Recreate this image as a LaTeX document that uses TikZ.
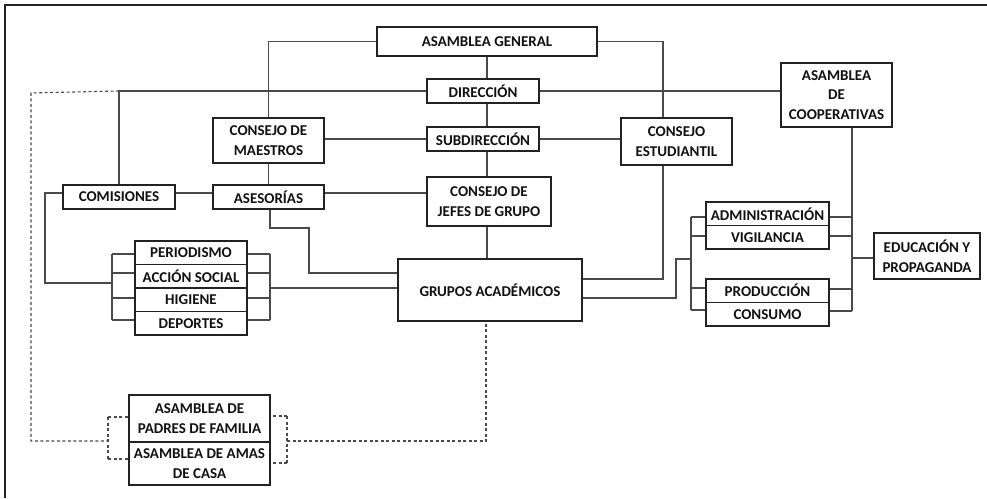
\documentclass[tikz,border=0pt]{standalone}
\usepackage{fontspec}
\setmainfont{Carlito}
\usetikzlibrary{backgrounds}
\definecolor{boxline}{HTML}{222222}
\definecolor{conline}{HTML}{4A4A4A}
\definecolor{txt}{HTML}{111111}
\tikzset{
  box/.style={draw=boxline, line width=1.4pt, fill=white, inner sep=0pt, align=center,
    font=\fontsize{15}{19.5}\selectfont\bfseries, text=txt},
  con/.style={draw=conline, line width=1.1pt},
  dsh/.style={draw=conline, line width=1.1pt, dash pattern=on 3pt off 2.5pt},
}
\begin{document}
\begin{tikzpicture}[x=1pt,y=-1pt]
\useasboundingbox (0,0) rectangle (987,498);
\draw[boxline, line width=1.2pt] (5,498) -- (5,5) -- (987,5);

% main column
\node[box, minimum width=220pt, minimum height=29pt] (ag) at (487,41.5) {ASAMBLEA GENERAL};
\node[box, minimum width=112pt, minimum height=24pt] (dir) at (483,91) {DIRECCIÓN};
\node[box, minimum width=112pt, minimum height=24pt] (sub) at (483,139) {SUBDIRECCIÓN};
\node[box, minimum width=124pt, minimum height=49pt] (cjg) at (489,201.5) {CONSEJO DE\\JEFES DE GRUPO};
\node[box, minimum width=184pt, minimum height=62pt] (ga) at (490,290) {GRUPOS ACADÉMICOS};

\node[box, minimum width=111pt, minimum height=45pt] (cm) at (268.5,140.5) {CONSEJO DE\\MAESTROS};
\node[box, minimum width=111pt, minimum height=24pt] (ase) at (268.5,197) {ASESORÍAS};
\node[box, minimum width=112pt, minimum height=24pt] (com) at (119,197) {COMISIONES};
\node[box, minimum width=111pt, minimum height=47pt] (ce) at (676.5,141.5) {CONSEJO\\ESTUDIANTIL};
\node[box, minimum width=111pt, minimum height=64pt] (ac) at (836.5,95) {ASAMBLEA\\DE\\COOPERATIVAS};

% committees
\node[box, minimum width=112pt, minimum height=23.5pt] (per) at (191,252.75) {PERIODISMO};
\node[box, minimum width=112pt, minimum height=23.5pt] (acc) at (191,276.25) {ACCIÓN SOCIAL};
\node[box, minimum width=112pt, minimum height=23.5pt] (hig) at (191,299.75) {HIGIENE};
\node[box, minimum width=112pt, minimum height=23.5pt] (dep) at (191,323.25) {DEPORTES};

% cooperatives
\node[box, minimum width=123pt, minimum height=23.5pt] (adm) at (767.5,213.75) {ADMINISTRACIÓN};
\node[box, minimum width=123pt, minimum height=23.5pt] (vig) at (767.5,237.25) {VIGILANCIA};
\node[box, minimum width=123pt, minimum height=23.5pt] (pro) at (767.5,290.75) {PRODUCCIÓN};
\node[box, minimum width=123pt, minimum height=23.5pt] (cns) at (767.5,314.25) {CONSUMO};
\node[box, minimum width=106pt, minimum height=46pt] (edu) at (927,256) {EDUCACIÓN Y\\PROPAGANDA};

% parents
\node[box, minimum width=141pt, minimum height=47pt] (pad) at (199.5,418.5) {ASAMBLEA DE\\PADRES DE FAMILIA};
\node[box, minimum width=141pt, minimum height=43pt] (ama) at (199.5,463.5) {ASAMBLEA DE AMAS\\DE CASA};

% helper coordinates
\coordinate (ceX) at (663,0);
\coordinate (comL) at (45,283);
\coordinate (cbL) at (112,0);
\coordinate (cbR) at (270,0);
\coordinate (aseA) at (270,228);
\coordinate (aseB) at (309,228);
\coordinate (aseC) at (309,273);
\coordinate (gaR1) at (676,298);
\coordinate (gaR2) at (676,259);
\coordinate (kbL) at (691,0);
\coordinate (kbR) at (852,0);
\coordinate (dL) at (31,93);
\coordinate (dB) at (31,441);
\coordinate (pbL) at (108,0);
\coordinate (pbR) at (287,0);
\coordinate (gaD) at (486,441);

\begin{scope}[on background layer]
  % main spine
  \draw[con] (ag.south) -- (ag.south |- ga.north);
  % top branches
  \draw[con] (ag.west) -| (cm.north);
  \draw[con] (ag.east) -| (ce.north -| ceX);
  % direccion
  \draw[con] (dir.west) -| (com.north);
  \draw[con] (dir.east) -- (dir.east -| ac.west);
  % subdireccion
  \draw[con] (sub.west) -- (sub.west -| cm.east);
  \draw[con] (sub.east) -- (sub.east -| ce.west);
  % consejo de maestros / asesorias / comisiones
  \draw[con] (cm.south) -- (ase.north);
  \draw[con] (com.east |- 0,193) -- (ase.west |- 0,193);
  \draw[con] (ase.east |- 0,193) -- (cjg.west |- 0,193);
  \draw[con] (com.west |- 0,193) -| (comL) -- (comL -| cbL);
  % asesorias to grupos
  \draw[con] (ase.south -| aseA) -- (aseA) -- (aseB) -- (aseC) -- (aseC -| ga.west);
  % committee brackets
  \draw[con] (cbL |- 0,254) -- (cbL |- 0,320);
  \draw[con] (cbR |- 0,254) -- (cbR |- 0,320);
  \draw[con] (cbL |- 0,254) -- (per.west |- 0,254);
  \draw[con] (cbL |- 0,273) -- (acc.west |- 0,273);
  \draw[con] (cbL |- 0,298) -- (hig.west |- 0,298);
  \draw[con] (cbL |- 0,320) -- (dep.west |- 0,320);
  \draw[con] (cbR |- 0,254) -- (per.east |- 0,254);
  \draw[con] (cbR |- 0,273) -- (acc.east |- 0,273);
  \draw[con] (cbR |- 0,298) -- (hig.east |- 0,298);
  \draw[con] (cbR |- 0,320) -- (dep.east |- 0,320);
  \draw[con] (cbR |- 0,288) -- (ga.west |- 0,288);
  % grupos to consejo estudiantil
  \draw[con] (ga.east |- 0,279) -| (ce.south -| ceX);
  % grupos to cooperatives
  \draw[con] (ga.east |- gaR1) -- (gaR1) -- (gaR2) -- (gaR2 -| kbL);
  \draw[con] (kbL |- 0,217) -- (kbL |- 0,310);
  \draw[con] (kbL |- 0,217) -- (adm.west |- 0,217);
  \draw[con] (kbL |- 0,236) -- (vig.west |- 0,236);
  \draw[con] (kbL |- 0,288) -- (pro.west |- 0,288);
  \draw[con] (kbL |- 0,310) -- (cns.west |- 0,310);
  \draw[con] (ac.south -| kbR) -- (kbR |- 0,311);
  \draw[con] (kbR |- 0,217) -- (adm.east |- 0,217);
  \draw[con] (kbR |- 0,236) -- (vig.east |- 0,236);
  \draw[con] (kbR |- 0,289) -- (pro.east |- 0,289);
  \draw[con] (kbR |- 0,311) -- (cns.east |- 0,311);
  \draw[con] (kbR |- 0,258) -- (edu.west |- 0,258);
  % dashed links to parents
  \draw[dsh] (com.north |- dir.west) -- (dL) -- (dB) -- (dB -| pbL);
  \draw[dsh] (pbL |- 0,417) -- (pbL |- 0,459);
  \draw[dsh] (pbL |- 0,417) -- (pad.west |- 0,417);
  \draw[dsh] (pbL |- 0,459) -- (ama.west |- 0,459);
  \draw[dsh] (pbR |- 0,416) -- (pbR |- 0,463);
  \draw[dsh] (pbR |- 0,416) -- (pad.east |- 0,416);
  \draw[dsh] (pbR |- 0,463) -- (ama.east |- 0,463);
  \draw[dsh] (pbR |- gaD) -- (gaD) -- (ga.south -| gaD);
\end{scope}
\end{tikzpicture}
\end{document}
